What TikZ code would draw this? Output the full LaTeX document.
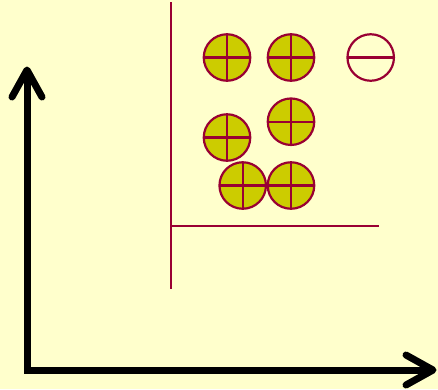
\documentclass[tikz,border=0pt]{standalone}
\begin{document}
\begin{tikzpicture}[x=1pt,y=-1pt,
  ball/.style={circle,draw=maroon,fill=olive,line width=2.2pt,minimum size=46.5pt,inner sep=0pt,outer sep=0pt},
  emptyball/.style={circle,draw=maroon,line width=2.2pt,minimum size=46.5pt,inner sep=0pt,outer sep=0pt},
  mline/.style={draw=maroon,line width=2.2pt},
  axis/.style={line width=7pt,black,line cap=round,line join=round}]
\definecolor{maroon}{HTML}{990033}
\definecolor{olive}{HTML}{CCCC00}
\definecolor{bg}{HTML}{FFFFCC}
\fill[bg] (0,0) rectangle (438,389);
\useasboundingbox (0,0) rectangle (438,389);
% maroon frame lines
\coordinate (vt) at (171,2);
\coordinate (vb) at (171,289);
\coordinate (hl) at (171,226);
\coordinate (hr) at (378.5,226);
\draw[mline] (vt) -- (vb);
\draw[mline] (hl) -- (hr);
% filled balls
\foreach \n/\x/\y in {a/227/57.5,b/291/57.5,c/227/137.5,d/291/121.7,e/242.7/185.5,f/291/185.5}{
  \node[ball] (\n) at (\x,\y) {};
  \draw[mline] (\n.north) -- (\n.south);
  \draw[mline] (\n.west) -- (\n.east);
}
\node[emptyball] (g) at (370.7,57.5) {};
\draw[mline] (g.west) -- (g.east);
% axes
\coordinate (o) at (27,370);
\coordinate (ytip) at (27,70);
\coordinate (xtip) at (433,370);
\draw[axis,line join=miter,line cap=butt] (ytip) -- (o) -- (xtip);
\draw[axis] (12,97) -- (ytip) -- (42,97);
\draw[axis] (406,355) -- (xtip) -- (406,385);
\end{tikzpicture}
\end{document}
